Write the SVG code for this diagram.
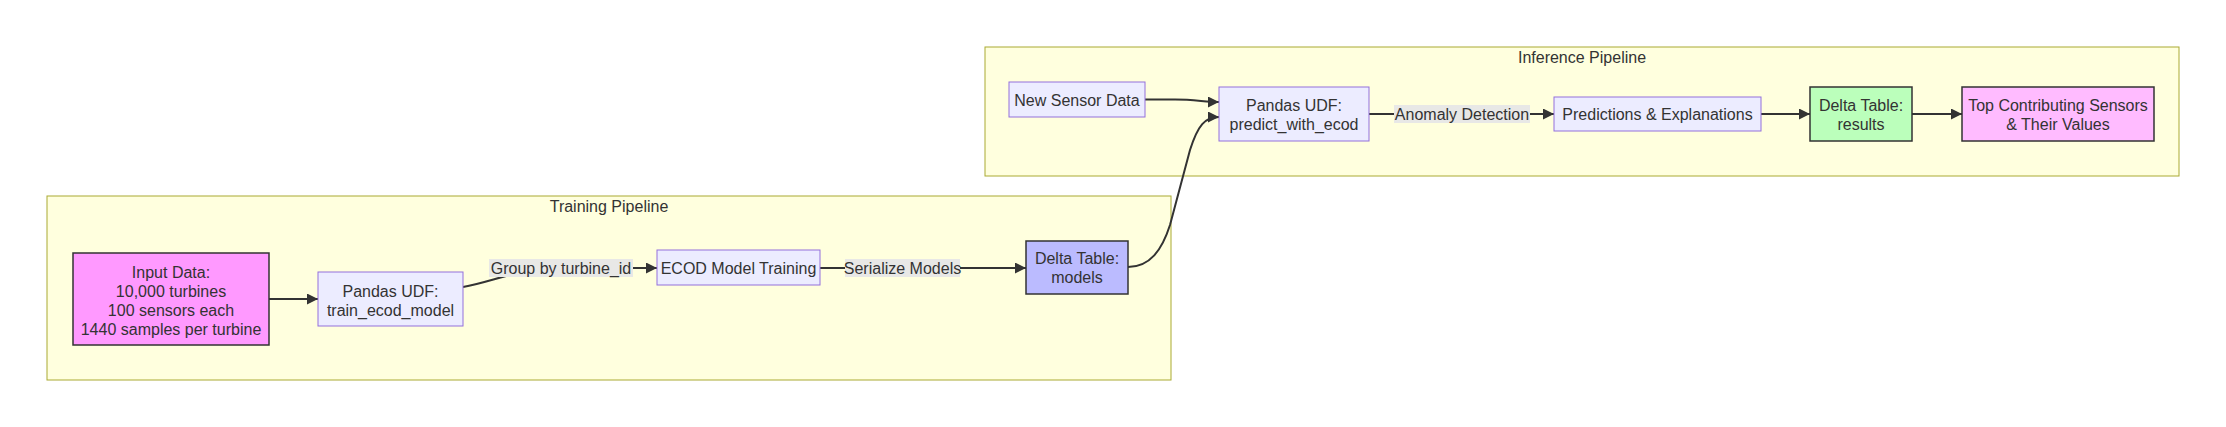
<svg xmlns="http://www.w3.org/2000/svg" width="2226" height="427" viewBox="0 0 2226 427">
<style>
text{font-family:"Liberation Sans",Arial,sans-serif;font-size:16px;fill:#333;text-anchor:middle}
.cluster{fill:#ffffde;stroke:#aaaa33;stroke-width:1}
.node{fill:#ECECFF;stroke:#9370DB;stroke-width:1}
.styled{stroke:#333;stroke-width:1.5}
.edge{fill:none;stroke:#333;stroke-width:2}
.lbl{fill:#e8e8e6}
</style>
<defs>
<marker id="arrow" viewBox="0 0 10 10" refX="10" refY="5" markerUnits="userSpaceOnUse" markerWidth="11" markerHeight="11" orient="auto">
<path d="M0,0 L10,5 L0,10 z" fill="#333"/>
</marker>
</defs>
<rect width="2226" height="427" fill="#ffffff"/>
<g id="cluster-training">
<rect class="cluster" x="47" y="196" width="1124" height="184"/>
<text x="609" y="211.5">Training Pipeline</text>
</g>
<g id="cluster-inference">
<rect class="cluster" x="985" y="47" width="1194" height="129"/>
<text x="1582" y="62.5">Inference Pipeline</text>
</g>
<g id="connectors">
<path class="edge" d="M269,299 L318,299" marker-end="url(#arrow)"/>
<path class="edge" d="M463,287 C495,281 520,268 560,268 L657,268" marker-end="url(#arrow)"/>
<path class="edge" d="M820,268 L1026,268" marker-end="url(#arrow)"/>
<path class="edge" d="M1128,267 C1150,267 1162,250 1170,225 L1190,150 C1198,125 1205,117 1219,117" marker-end="url(#arrow)"/>
<path class="edge" d="M1145,99.5 L1175,99.5 C1195,99.5 1205,102 1219,102" marker-end="url(#arrow)"/>
<path class="edge" d="M1369,114 L1554,114" marker-end="url(#arrow)"/>
<path class="edge" d="M1761,114 L1810,114" marker-end="url(#arrow)"/>
<path class="edge" d="M1912,114 L1962,114" marker-end="url(#arrow)"/>
<g id="edge-labels">
<rect class="lbl" x="489" y="259" width="144" height="18"/>
<text x="561" y="273.5">Group by turbine_id</text>
<rect class="lbl" x="845" y="259" width="115" height="18"/>
<text x="902.5" y="273.5">Serialize Models</text>
<rect class="lbl" x="1394" y="105" width="136" height="18"/>
<text x="1462" y="119.5">Anomaly Detection</text>
</g>
</g>
<g id="node-input">
<rect class="styled" x="73" y="253" width="196" height="92" fill="#ff99ff"/>
<text x="171" y="278">Input Data:</text>
<text x="171" y="297">10,000 turbines</text>
<text x="171" y="316">100 sensors each</text>
<text x="171" y="335">1440 samples per turbine</text>
</g>
<g id="node-train-udf">
<rect class="node" x="318" y="272" width="145" height="54"/>
<text x="390.5" y="297">Pandas UDF:</text>
<text x="390.5" y="316">train_ecod_model</text>
</g>
<g id="node-ecod">
<rect class="node" x="657" y="250" width="163" height="35"/>
<text x="738.5" y="273.5">ECOD Model Training</text>
</g>
<g id="node-models">
<rect class="styled" x="1026" y="241" width="102" height="53" fill="#bbbbff"/>
<text x="1077" y="264">Delta Table:</text>
<text x="1077" y="283">models</text>
</g>
<g id="node-new-sensor">
<rect class="node" x="1009" y="82" width="136" height="35"/>
<text x="1077" y="105.5">New Sensor Data</text>
</g>
<g id="node-predict-udf">
<rect class="node" x="1219" y="87" width="150" height="54"/>
<text x="1294" y="111">Pandas UDF:</text>
<text x="1294" y="130">predict_with_ecod</text>
</g>
<g id="node-predictions">
<rect class="node" x="1554" y="97" width="207" height="34"/>
<text x="1657.5" y="119.5">Predictions &amp; Explanations</text>
</g>
<g id="node-results">
<rect class="styled" x="1810" y="87" width="102" height="54" fill="#bbffbb"/>
<text x="1861" y="111">Delta Table:</text>
<text x="1861" y="130">results</text>
</g>
<g id="node-top">
<rect class="styled" x="1962" y="87" width="192" height="54" fill="#ffbbff"/>
<text x="2058" y="111">Top Contributing Sensors</text>
<text x="2058" y="130">&amp; Their Values</text>
</g>
</svg>
